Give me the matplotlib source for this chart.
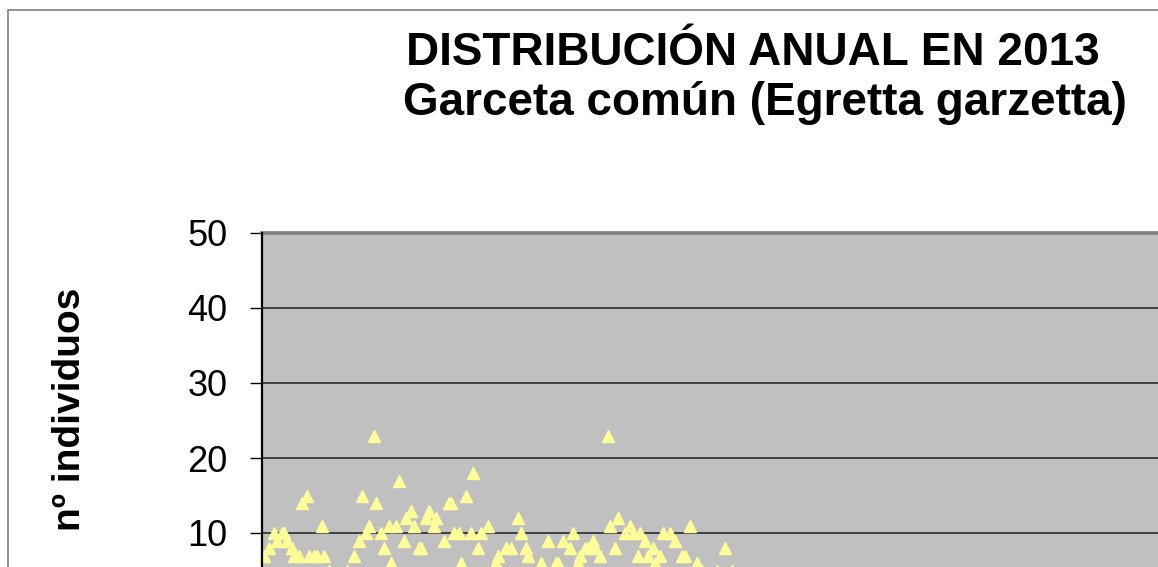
import matplotlib
matplotlib.use("Agg")
import matplotlib.pyplot as plt
from matplotlib.patches import Rectangle

plt.rcParams.update({
    "font.family": ["Liberation Sans", "DejaVu Sans"],
})

# day of year (2013) and number of birds counted
dias = [1, 3, 5, 6, 8, 9, 10, 12, 13, 15, 16, 18, 19, 21, 22, 24, 25, 27, 34,
        37, 39, 40, 42, 43, 45, 46, 48, 49, 51, 52, 54, 55, 57, 58, 60, 61, 63,
        64, 66, 67, 69, 70, 73, 75, 76, 77, 79, 80, 82, 84, 85, 87, 88, 91, 94,
        95, 98, 100, 103, 104, 106, 107, 112, 115, 118, 119, 121, 124, 125, 127,
        128, 130, 131, 133, 134, 136, 139, 140, 142, 143, 146, 148, 149, 151,
        152, 154, 155, 157, 158, 160, 161, 164, 166, 169, 170, 172, 175, 177,
        183, 186, 189]
individuos = [7, 8, 10, 9, 10, 10, 9, 8, 7, 7, 14, 15, 7, 7, 7, 11, 7, 5, 5,
              7, 9, 15, 10, 11, 23, 14, 10, 8, 11, 6, 11, 17, 9, 12, 13, 11, 8,
              8, 12, 13, 11, 12, 9, 14, 14, 10, 10, 6, 15, 10, 18, 8, 10, 11, 6,
              7, 8, 8, 12, 10, 8, 7, 6, 9, 6, 6, 9, 8, 10, 6,
              7, 8, 8, 9, 8, 7, 23, 11, 8, 12, 10, 11, 10, 7,
              10, 9, 7, 8, 6, 7, 10, 10, 9, 7, 7, 11, 6, 5,
              5, 8, 5]

# 0 tick falls below the visible area of the picture
y_ticks = [10, 20, 30, 40, 50]

W, H = 1158, 567
fig = plt.figure(figsize=(W / 100, H / 100), dpi=100)

# outer chart frame (runs off the right and bottom edges)
fig.patches.append(Rectangle((8 / W, -0.1), 1.2, 1 - 10 / H + 0.1,
                             transform=fig.transFigure, fill=False,
                             ec="#7f7f7f", lw=1.2))

ax_l, ax_r = 262 / W, 1170 / W
ax_top, ax_bot = 1 - 233 / H, 1 - 608 / H
ax = fig.add_axes([ax_l, ax_bot, ax_r - ax_l, ax_top - ax_bot])
ax.set_facecolor("#C0C0C0")

ax.plot(dias, individuos, linestyle="none", marker="^", ms=8.5,
        mfc="#FFFF99", mec="#FFFF99", zorder=3, clip_on=False)

ax.set_xlim(0, 365)
ax.set_ylim(0, 50)
ax.set_yticks(y_ticks)
ax.set_xticks([])
for v in y_ticks[:-1]:
    ax.axhline(v, color="#2b2b2b", lw=1.2, zorder=1)

ax.spines["top"].set_color("#808080")
ax.spines["top"].set_linewidth(2.6)
ax.spines["right"].set_visible(False)
ax.spines["bottom"].set_visible(False)
ax.spines["left"].set_color("black")
ax.spines["left"].set_linewidth(1.6)
ax.spines["left"].set_zorder(4)

ax.tick_params(axis="y", direction="out", length=9, width=1,
               labelsize=26, pad=16, colors="black")

fig.text(69.5 / W, 1 - 409 / H, "nº individuos", rotation=90,
         ha="center", va="center", fontsize=28, fontweight="bold")

fig.text(753 / W, 1 - 65 / H, "DISTRIBUCIÓN ANUAL EN 2013",
         ha="center", va="baseline", fontsize=33, fontweight="bold")
fig.text(764.5 / W, 1 - 115 / H, "Garceta común (Egretta garzetta)",
         ha="center", va="baseline", fontsize=33, fontweight="bold")

fig.savefig("out.png", dpi=100)
